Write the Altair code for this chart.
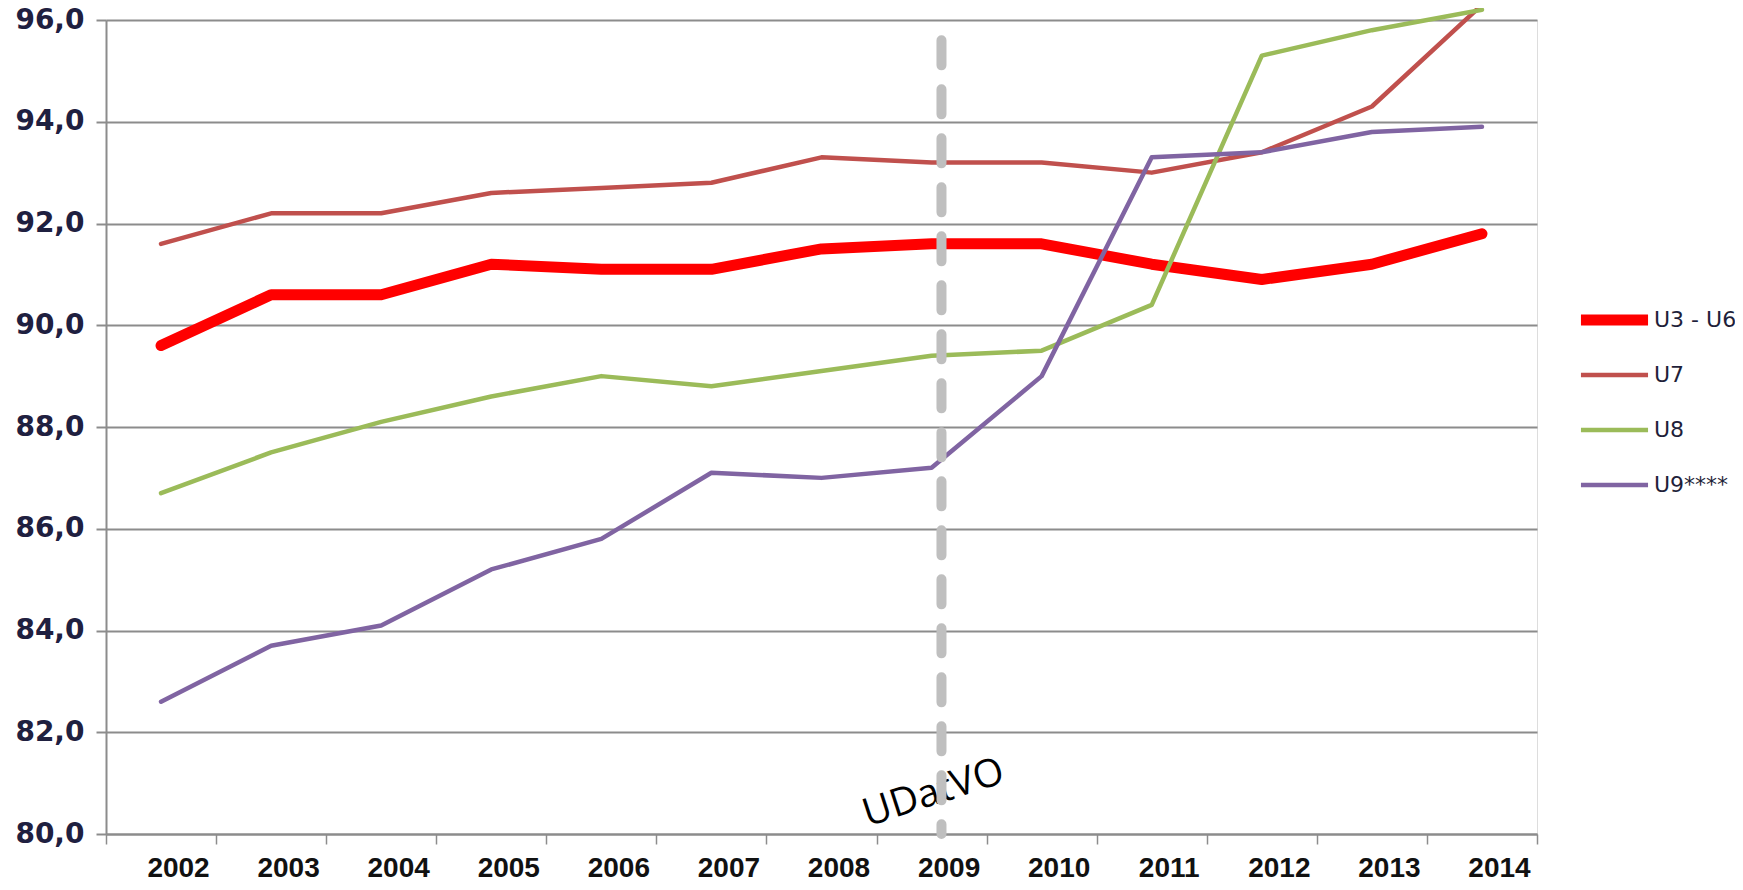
import altair as alt
import pandas as pd

years = ["2002", "2003", "2004", "2005", "2006", "2007", "2008",
         "2009", "2010", "2011", "2012", "2013", "2014"]
series_names = ["U3 - U6", "U7", "U8", "U9****"]
u3_u6 = [89.6, 90.6, 90.6, 91.2, 91.1, 91.1, 91.5, 91.6, 91.6, 91.2, 90.9, 91.2, 91.8]
u7 = [91.6, 92.2, 92.2, 92.6, 92.7, 92.8, 93.3, 93.2, 93.2, 93.0, 93.4, 94.3, 96.3]
u8 = [86.7, 87.5, 88.1, 88.6, 89.0, 88.8, 89.1, 89.4, 89.5, 90.4, 95.3, 95.8, 96.2]
u9 = [82.6, 83.7, 84.1, 85.2, 85.8, 87.1, 87.0, 87.2, 89.0, 93.3, 93.4, 93.8, 93.9]
colors = ["#FF0000", "#C0504D", "#9BBB59", "#8064A2"]
widths = [11, 4.5, 4.5, 4.5]
y_ticks = [80, 82, 84, 86, 88, 90, 92, 94, 96]

marker_year = "2009"
marker_top = 95.6
marker_bottom = 80.0
marker_label = "UDatVO"
marker_label_y = 80.8

rows = []
for name, vals in zip(series_names, [u3_u6, u7, u8, u9]):
    for yr, v in zip(years, vals):
        rows.append({"year": yr, "value": v, "series": name})
df = pd.DataFrame(rows)

marker_df = pd.DataFrame([{"year": marker_year, "top": marker_top, "bottom": marker_bottom,
                           "label": marker_label, "ly": marker_label_y}])

x_enc = alt.X("year:O", sort=years, bandPosition=0.5,
              scale=alt.Scale(type="band", domain=years, paddingInner=0, paddingOuter=0),
              axis=alt.Axis(title=None, labelAngle=0, tickBand="extent", grid=False,
                            domainColor="#8C8C8C", domainWidth=2, tickColor="#8C8C8C",
                            tickWidth=1.5, tickSize=10, labelFont="Liberation Sans",
                            labelFontWeight="bold", labelFontSize=28, labelColor="#111111",
                            labelPadding=10, labelOffset=17))

y_scale = alt.Scale(domain=[80, 96], nice=False, zero=False)

legend_kw = dict(title=None, orient="none", legendX=1469, legendY=276,
                 symbolType="stroke", symbolSize=4500, clipHeight=48,
                 labelFont="DejaVu Sans", labelFontSize=22,
                 labelColor="#1F1F3A", rowPadding=7, labelOffset=0)

lines = alt.Chart(df).mark_line(strokeCap="round", strokeJoin="round").encode(
    x=x_enc,
    y=alt.Y("value:Q", scale=y_scale,
            axis=alt.Axis(title=None, values=y_ticks,
                          labelExpr="replace(format(datum.value, '.1f'), '.', ',')",
                          grid=True, gridColor="#8C8C8C", gridWidth=2,
                          domainColor="#8C8C8C", domainWidth=2, tickColor="#8C8C8C",
                          tickWidth=2, tickSize=10, labelFont="DejaVu Sans",
                          labelFontWeight="bold", labelFontSize=28, labelColor="#1F2040",
                          labelPadding=12)),
    color=alt.Color("series:N", sort=series_names,
                    scale=alt.Scale(domain=series_names, range=colors),
                    legend=alt.Legend(**legend_kw)),
    strokeWidth=alt.StrokeWidth("series:N", sort=series_names,
                                scale=alt.Scale(type="ordinal", domain=series_names, range=widths),
                                legend=alt.Legend(**legend_kw)),
    order=alt.Order("year:O"),
)

rule = alt.Chart(marker_df).mark_rule(color="#BFBFBF", strokeWidth=10, strokeCap="round",
                                       strokeDash=[25, 24]).encode(
    x=alt.X("year:O", sort=years, bandPosition=0.59),
    y=alt.Y("top:Q", scale=y_scale),
    y2="bottom:Q",
)

text = alt.Chart(marker_df).mark_text(angle=342, font="Open Sans", fontSize=39,
                                      color="#000000", align="center",
                                      baseline="middle", dx=2).encode(
    x=alt.X("year:O", sort=years, bandPosition=0.5),
    y=alt.Y("ly:Q", scale=y_scale),
    text="label:N",
)

chart = alt.layer(lines, text, rule).properties(
    width=1431, height=814,
    autosize=alt.AutoSizeParams(type="none"),
    padding={"left": 98, "top": 12, "right": 198, "bottom": 47},
).configure_view(stroke=None).configure(background="#FFFFFF")

chart.save("out.html", embed_options={"renderer": "svg", "actions": False})
